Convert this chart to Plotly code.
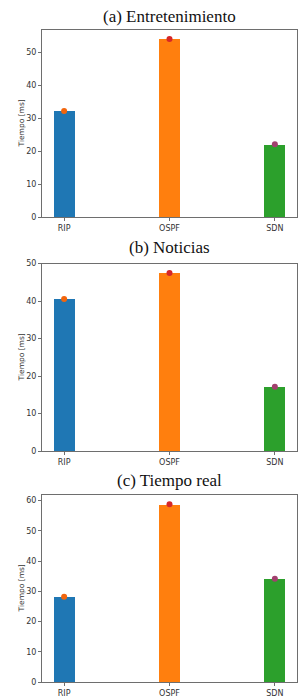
import plotly.graph_objects as go

categories = ["RIP", "OSPF", "SDN"]
titles = ["(a) Entretenimiento", "(b) Noticias", "(c) Tiempo real"]
values_a = [32.2, 54.0, 22.1]
values_b = [40.6, 47.5, 17.2]
values_c = [28.2, 58.8, 34.2]
all_values = [values_a, values_b, values_c]
y_ranges = [[0, 56.8], [0, 50], [0, 62]]

bar_colors = ["#1f77b4", "#ff7f0e", "#2ca02c"]
dot_colors = ["#f2650c", "#d62728", "#a2406e"]

W, H = 298, 700
L, R = 42, 297
panels_px = [(26, 216), (263, 453), (497, 687)]
title_px = [13, 247, 483]

fig = go.Figure()
xpos = [0, 1, 2]
for i, vals in enumerate(all_values):
    xa = "x" if i == 0 else f"x{i+1}"
    ya = "y" if i == 0 else f"y{i+1}"
    fig.add_trace(go.Bar(x=xpos, y=vals, width=0.2, marker=dict(color=bar_colors, line=dict(width=0)),
                         xaxis=xa, yaxis=ya, showlegend=False, hoverinfo="skip"))
    fig.add_trace(go.Scatter(x=xpos, y=vals, mode="markers",
                             marker=dict(color=dot_colors, size=6, symbol="circle", line=dict(width=0)),
                             xaxis=xa, yaxis=ya, showlegend=False, hoverinfo="skip"))

layout = dict(width=W, height=H, margin=dict(l=0, r=0, t=0, b=0),
              plot_bgcolor="white", paper_bgcolor="white", showlegend=False,
              bargap=0, annotations=[])
axis_color = "#6e6e6e"
tickfont = dict(family="DejaVu Sans", size=8, color="#333333")
for i in range(3):
    top, bot = panels_px[i]
    sfx = "" if i == 0 else str(i + 1)
    layout[f"xaxis{sfx}"] = dict(domain=[L / W, R / W], range=[-0.21, 2.21],
                                 tickmode="array", tickvals=xpos, ticktext=categories,
                                 showgrid=False, zeroline=False, showline=True, mirror=True,
                                 linecolor=axis_color, linewidth=1, ticks="outside", ticklen=3,
                                 tickcolor=axis_color, tickfont=tickfont,
                                 anchor=f"y{sfx}", fixedrange=True)
    layout[f"yaxis{sfx}"] = dict(domain=[1 - bot / H, 1 - top / H], range=y_ranges[i],
                                 dtick=10, showgrid=False, zeroline=False, showline=True, mirror=True,
                                 linecolor=axis_color, linewidth=1, ticks="outside", ticklen=3,
                                 tickcolor=axis_color, tickfont=tickfont,
                                 anchor=f"x{sfx}", fixedrange=True)
    layout["annotations"].append(dict(text="Tiempo [ms]", x=21 / W, y=1 - (top + bot) / 2 / H,
                                      xref="paper", yref="paper", textangle=-90,
                                      showarrow=False, xanchor="center", yanchor="middle",
                                      font=dict(family="DejaVu Sans", size=7.5, color="#333333")))
    layout["annotations"].append(dict(text=titles[i], x=169 / W,
                                      y=1 - title_px[i] / H, xref="paper", yref="paper",
                                      showarrow=False, xanchor="center", yanchor="middle",
                                      font=dict(family="Liberation Serif", size=17, color="#111111")))
fig.update_layout(**layout)
fig.write_html("out.html", config={"displayModeBar": False},
               post_script="document.body.style.margin='0';document.body.style.overflow='hidden';")
